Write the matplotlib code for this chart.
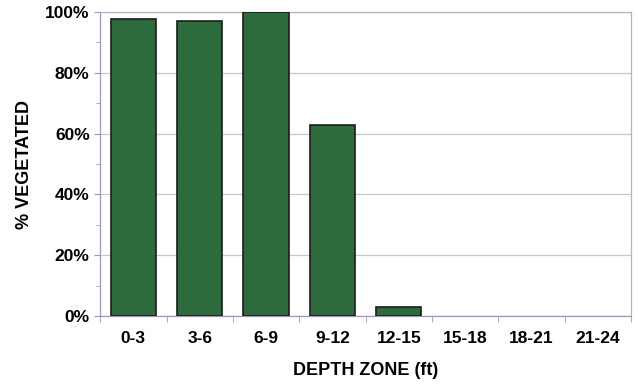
import matplotlib
matplotlib.use('Agg')
from matplotlib import pyplot as plt
from matplotlib.ticker import MultipleLocator, PercentFormatter
import numpy as np

zones = ['0-3', '3-6', '6-9', '9-12', '12-15', '15-18', '18-21', '21-24']
pct_vegetated = [97.7, 97.0, 100.0, 62.8, 3.0, 0, 0, 0]

plt.rcParams['font.family'] = ['Liberation Sans', 'DejaVu Sans']
plt.rcParams['font.weight'] = 'bold'

fig = plt.figure(figsize=(6.38, 3.85), dpi=100)
ax = fig.add_axes([0.157, 0.179, 0.832, 0.79])

x = np.arange(len(zones))
# zero-height bars get no outline so nothing shows on the baseline
widths = [1.2 if v > 0 else 0 for v in pct_vegetated]
ax.bar(x, pct_vegetated, width=0.68, color='#2d6a3c', edgecolor='#1c1c1c', linewidth=widths, zorder=3)

ax.set_xlim(-0.5, len(zones) - 0.5)
ax.set_ylim(0, 100)
ax.yaxis.set_major_locator(MultipleLocator(20))
ax.yaxis.set_minor_locator(MultipleLocator(10))
ax.yaxis.set_major_formatter(PercentFormatter(decimals=0))
ax.grid(axis='y', which='major', color='#c8c4d4', linewidth=0.9, zorder=0)

# category labels centred, tick marks between categories
ax.set_xticks(x)
ax.set_xticklabels(zones)
ax.set_xticks(np.arange(-0.5, len(zones), 1), minor=True)
ax.tick_params(axis='x', which='major', length=0, pad=11, labelsize=12.5)
ax.tick_params(axis='x', which='minor', length=4, color='#9a98b8', direction='out')
ax.tick_params(axis='y', which='both', color='#9a98b8', direction='out', labelsize=12.5)
ax.tick_params(axis='y', which='major', length=4)
ax.tick_params(axis='y', which='minor', length=3)

for s in ax.spines.values():
    s.set_color('#b8b0c8')
    s.set_linewidth(0.9)
ax.spines['left'].set_color('#9a98c0')
ax.spines['bottom'].set_color('#9a98c0')

ax.set_ylabel('% VEGETATED', fontsize=13, fontweight='bold', labelpad=9)
ax.set_xlabel('DEPTH ZONE (ft)', fontsize=13, fontweight='bold', labelpad=11)

fig.savefig('out.png', dpi=100)
